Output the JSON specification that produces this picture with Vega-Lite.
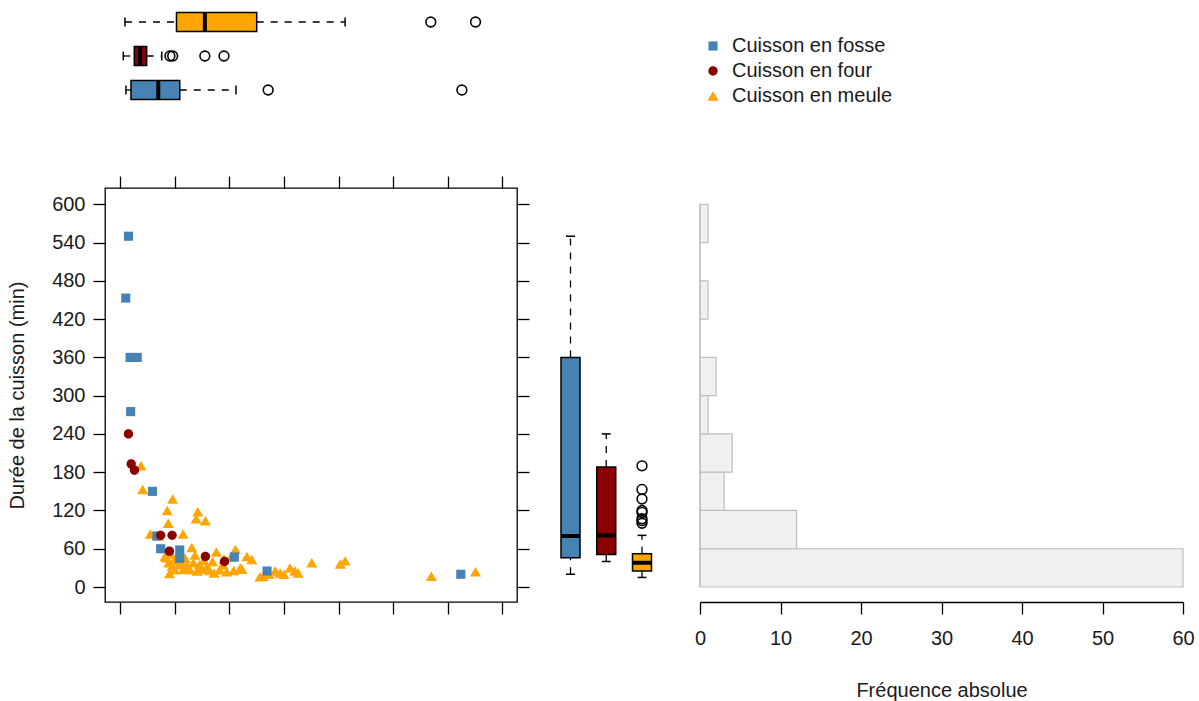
{
 "$schema": "https://vega.github.io/schema/vega-lite/v6.json",
 "padding": {"left": 6, "top": 5, "right": 5, "bottom": 5},
 "background": "white",
 "config": {
  "font": "Liberation Sans",
  "view": {"stroke": null},
  "axis": {"labelFont": "Liberation Sans", "titleFont": "Liberation Sans", "labelFontSize": 20, "titleFontSize": 20, "titleFontWeight": "normal", "labelColor": "#1a1a1a", "titleColor": "#1a1a1a", "tickColor": "#000000", "domainColor": "#000000", "tickWidth": 1.3, "domainWidth": 1.3, "tickSize": 12, "grid": false}
 },
 "datasets": {
  "pts": [
   {"cuisson": "Cuisson en meule", "x": 3.8, "duree": 190},
   {"cuisson": "Cuisson en meule", "x": 4.1, "duree": 153},
   {"cuisson": "Cuisson en meule", "x": 9.6, "duree": 138},
   {"cuisson": "Cuisson en meule", "x": 8.6, "duree": 120},
   {"cuisson": "Cuisson en meule", "x": 14.2, "duree": 118},
   {"cuisson": "Cuisson en meule", "x": 13.9, "duree": 107},
   {"cuisson": "Cuisson en meule", "x": 15.6, "duree": 104},
   {"cuisson": "Cuisson en meule", "x": 8.8, "duree": 100},
   {"cuisson": "Cuisson en meule", "x": 5.5, "duree": 83},
   {"cuisson": "Cuisson en meule", "x": 11.5, "duree": 83},
   {"cuisson": "Cuisson en meule", "x": 7.0, "duree": 80},
   {"cuisson": "Cuisson en meule", "x": 13.1, "duree": 62},
   {"cuisson": "Cuisson en meule", "x": 8.2, "duree": 48},
   {"cuisson": "Cuisson en meule", "x": 8.5, "duree": 46},
   {"cuisson": "Cuisson en meule", "x": 9.0, "duree": 21},
   {"cuisson": "Cuisson en meule", "x": 8.9, "duree": 38},
   {"cuisson": "Cuisson en meule", "x": 9.5, "duree": 33},
   {"cuisson": "Cuisson en meule", "x": 9.9, "duree": 42},
   {"cuisson": "Cuisson en meule", "x": 10.2, "duree": 44},
   {"cuisson": "Cuisson en meule", "x": 10.0, "duree": 27},
   {"cuisson": "Cuisson en meule", "x": 9.3, "duree": 52},
   {"cuisson": "Cuisson en meule", "x": 11.6, "duree": 28},
   {"cuisson": "Cuisson en meule", "x": 10.8, "duree": 35},
   {"cuisson": "Cuisson en meule", "x": 11.2, "duree": 40},
   {"cuisson": "Cuisson en meule", "x": 11.9, "duree": 45},
   {"cuisson": "Cuisson en meule", "x": 12.3, "duree": 33},
   {"cuisson": "Cuisson en meule", "x": 12.8, "duree": 27},
   {"cuisson": "Cuisson en meule", "x": 13.4, "duree": 38},
   {"cuisson": "Cuisson en meule", "x": 13.7, "duree": 50},
   {"cuisson": "Cuisson en meule", "x": 14.1, "duree": 25},
   {"cuisson": "Cuisson en meule", "x": 14.5, "duree": 35},
   {"cuisson": "Cuisson en meule", "x": 15.0, "duree": 28},
   {"cuisson": "Cuisson en meule", "x": 15.3, "duree": 42},
   {"cuisson": "Cuisson en meule", "x": 15.9, "duree": 32},
   {"cuisson": "Cuisson en meule", "x": 16.4, "duree": 26},
   {"cuisson": "Cuisson en meule", "x": 16.9, "duree": 40},
   {"cuisson": "Cuisson en meule", "x": 17.6, "duree": 55},
   {"cuisson": "Cuisson en meule", "x": 18.2, "duree": 27},
   {"cuisson": "Cuisson en meule", "x": 18.8, "duree": 35},
   {"cuisson": "Cuisson en meule", "x": 19.5, "duree": 24},
   {"cuisson": "Cuisson en meule", "x": 20.3, "duree": 47},
   {"cuisson": "Cuisson en meule", "x": 21.1, "duree": 59},
   {"cuisson": "Cuisson en meule", "x": 22.0, "duree": 30},
   {"cuisson": "Cuisson en meule", "x": 22.3, "duree": 28},
   {"cuisson": "Cuisson en meule", "x": 23.2, "duree": 48},
   {"cuisson": "Cuisson en meule", "x": 24.1, "duree": 43},
   {"cuisson": "Cuisson en meule", "x": 17.2, "duree": 22},
   {"cuisson": "Cuisson en meule", "x": 19.0, "duree": 44},
   {"cuisson": "Cuisson en meule", "x": 20.8, "duree": 26},
   {"cuisson": "Cuisson en meule", "x": 25.6, "duree": 16},
   {"cuisson": "Cuisson en meule", "x": 26.2, "duree": 17},
   {"cuisson": "Cuisson en meule", "x": 27.3, "duree": 20},
   {"cuisson": "Cuisson en meule", "x": 28.4, "duree": 25},
   {"cuisson": "Cuisson en meule", "x": 29.3, "duree": 22},
   {"cuisson": "Cuisson en meule", "x": 30.0, "duree": 20},
   {"cuisson": "Cuisson en meule", "x": 31.1, "duree": 30},
   {"cuisson": "Cuisson en meule", "x": 32.0, "duree": 25},
   {"cuisson": "Cuisson en meule", "x": 32.6, "duree": 22},
   {"cuisson": "Cuisson en meule", "x": 35.1, "duree": 38},
   {"cuisson": "Cuisson en meule", "x": 40.3, "duree": 36},
   {"cuisson": "Cuisson en meule", "x": 41.2, "duree": 41},
   {"cuisson": "Cuisson en meule", "x": 57.0, "duree": 17},
   {"cuisson": "Cuisson en meule", "x": 65.1, "duree": 24},
   {"cuisson": "Cuisson en fosse", "x": 1.5, "duree": 550},
   {"cuisson": "Cuisson en fosse", "x": 1.0, "duree": 453},
   {"cuisson": "Cuisson en fosse", "x": 1.8, "duree": 360},
   {"cuisson": "Cuisson en fosse", "x": 3.1, "duree": 360},
   {"cuisson": "Cuisson en fosse", "x": 1.9, "duree": 275},
   {"cuisson": "Cuisson en fosse", "x": 5.9, "duree": 150},
   {"cuisson": "Cuisson en fosse", "x": 6.7, "duree": 80},
   {"cuisson": "Cuisson en fosse", "x": 7.4, "duree": 60},
   {"cuisson": "Cuisson en fosse", "x": 10.9, "duree": 58},
   {"cuisson": "Cuisson en fosse", "x": 10.9, "duree": 45},
   {"cuisson": "Cuisson en fosse", "x": 20.9, "duree": 47},
   {"cuisson": "Cuisson en fosse", "x": 26.9, "duree": 25},
   {"cuisson": "Cuisson en fosse", "x": 62.4, "duree": 20},
   {"cuisson": "Cuisson en four", "x": 1.5, "duree": 240},
   {"cuisson": "Cuisson en four", "x": 2.0, "duree": 193},
   {"cuisson": "Cuisson en four", "x": 2.6, "duree": 183},
   {"cuisson": "Cuisson en four", "x": 7.4, "duree": 81},
   {"cuisson": "Cuisson en four", "x": 9.5, "duree": 81},
   {"cuisson": "Cuisson en four", "x": 9.0, "duree": 56},
   {"cuisson": "Cuisson en four", "x": 15.6, "duree": 48},
   {"cuisson": "Cuisson en four", "x": 19.1, "duree": 40}
  ],
  "xbox": [
   {"cuisson": "Cuisson en meule", "lower": 0.86, "q1": 10.3, "median": 15.5, "q3": 25.0, "upper": 41.2},
   {"cuisson": "Cuisson en four", "lower": 0.55, "q1": 2.57, "median": 3.6, "q3": 4.84, "upper": 7.6},
   {"cuisson": "Cuisson en fosse", "lower": 1.04, "q1": 1.96, "median": 6.96, "q3": 10.9, "upper": 21.2}
  ],
  "xout": [
   {"cuisson": "Cuisson en meule", "x": 56.9},
   {"cuisson": "Cuisson en meule", "x": 65.1},
   {"cuisson": "Cuisson en four", "x": 9.1},
   {"cuisson": "Cuisson en four", "x": 9.6},
   {"cuisson": "Cuisson en four", "x": 15.5},
   {"cuisson": "Cuisson en four", "x": 19.0},
   {"cuisson": "Cuisson en fosse", "x": 27.1},
   {"cuisson": "Cuisson en fosse", "x": 62.6}
  ],
  "ybox": [
   {"cuisson": "Cuisson en fosse", "lower": 20, "q1": 46, "median": 80, "q3": 360, "upper": 550},
   {"cuisson": "Cuisson en four", "lower": 40, "q1": 51, "median": 81, "q3": 188, "upper": 240},
   {"cuisson": "Cuisson en meule", "lower": 15, "q1": 25, "median": 38, "q3": 52, "upper": 81}
  ],
  "yout": [
   {"cuisson": "Cuisson en meule", "duree": 190},
   {"cuisson": "Cuisson en meule", "duree": 153},
   {"cuisson": "Cuisson en meule", "duree": 138},
   {"cuisson": "Cuisson en meule", "duree": 120},
   {"cuisson": "Cuisson en meule", "duree": 117},
   {"cuisson": "Cuisson en meule", "duree": 107},
   {"cuisson": "Cuisson en meule", "duree": 104},
   {"cuisson": "Cuisson en meule", "duree": 100}
  ],
  "hist": [
   {"lo": 0, "hi": 60, "n": 60},
   {"lo": 60, "hi": 120, "n": 12},
   {"lo": 120, "hi": 180, "n": 3},
   {"lo": 180, "hi": 240, "n": 4},
   {"lo": 240, "hi": 300, "n": 1},
   {"lo": 300, "hi": 360, "n": 2},
   {"lo": 360, "hi": 420, "n": 0},
   {"lo": 420, "hi": 480, "n": 1},
   {"lo": 480, "hi": 540, "n": 0},
   {"lo": 540, "hi": 600, "n": 1}
  ]
 },
 "bounds": "flush",
 "spacing": 81,
 "resolve": {"scale": {"x": "independent", "y": "independent", "color": "independent", "shape": "independent"}},
 "vconcat": [
  {
   "width": 412,
   "height": 102,
   "layer": [
    {
     "data": {"name": "xbox"},
     "mark": {"type": "rule", "strokeDash": [7, 7], "strokeWidth": 1.3, "color": "black"},
     "encoding": {
      "y": {"field": "cuisson", "type": "nominal", "scale": {"domain": ["Cuisson en meule", "Cuisson en four", "Cuisson en fosse"], "paddingInner": 0, "paddingOuter": 0}, "axis": null},
      "x": {"field": "lower", "type": "quantitative", "scale": {"domain": [-2.8, 72.7], "nice": false, "zero": false}, "axis": null},
      "x2": {"field": "q1"}
     }
    },
    {
     "data": {"name": "xbox"},
     "mark": {"type": "rule", "strokeDash": [7, 7], "strokeWidth": 1.3, "color": "black"},
     "encoding": {
      "y": {"field": "cuisson", "type": "nominal"},
      "x": {"field": "q3", "type": "quantitative"},
      "x2": {"field": "upper"}
     }
    },
    {
     "data": {"name": "xbox"},
     "mark": {"type": "tick", "size": 9, "thickness": 1.5, "color": "black", "opacity": 1},
     "encoding": {
      "y": {"field": "cuisson", "type": "nominal"},
      "x": {"field": "lower", "type": "quantitative"}
     }
    },
    {
     "data": {"name": "xbox"},
     "mark": {"type": "tick", "size": 9, "thickness": 1.5, "color": "black", "opacity": 1},
     "encoding": {
      "y": {"field": "cuisson", "type": "nominal"},
      "x": {"field": "upper", "type": "quantitative"}
     }
    },
    {
     "data": {"name": "xbox"},
     "mark": {"type": "bar", "size": 19, "stroke": "black", "strokeWidth": 1.5, "opacity": 1},
     "encoding": {
      "y": {"field": "cuisson", "type": "nominal"},
      "x": {"field": "q1", "type": "quantitative"},
      "x2": {"field": "q3"},
      "color": {"field": "cuisson", "type": "nominal", "scale": {"domain": ["Cuisson en fosse", "Cuisson en four", "Cuisson en meule"], "range": ["#4682B4", "#8B0000", "#FFA500"]}, "legend": null}
     }
    },
    {
     "data": {"name": "xbox"},
     "mark": {"type": "tick", "size": 19, "thickness": 4, "color": "black", "opacity": 1},
     "encoding": {
      "y": {"field": "cuisson", "type": "nominal"},
      "x": {"field": "median", "type": "quantitative"}
     }
    },
    {
     "data": {"name": "xout"},
     "mark": {"type": "point", "shape": "circle", "filled": false, "size": 95, "stroke": "black", "strokeWidth": 1.6, "opacity": 1},
     "encoding": {
      "y": {"field": "cuisson", "type": "nominal"},
      "x": {"field": "x", "type": "quantitative"}
     }
    }
   ]
  },
  {
   "bounds": "flush",
   "spacing": 20,
   "resolve": {"scale": {"x": "independent", "y": "independent", "color": "independent", "shape": "independent"}},
   "hconcat": [
    {
     "width": 412,
     "height": 414,
     "view": {"stroke": "black", "strokeWidth": 1.3},
     "data": {"name": "pts"},
     "resolve": {"axis": {"x": "independent", "y": "independent"}},
     "layer": [
      {
       "mark": {"type": "point", "opacity": 0},
       "encoding": {
        "x": {"field": "x", "type": "quantitative", "scale": {"domain": [-2.8, 72.7], "nice": false, "zero": false}, "axis": {"orient": "top", "values": [0, 10, 20, 30, 40, 50, 60, 70], "labels": false, "domain": false, "title": null}},
        "y": {"field": "duree", "type": "quantitative", "scale": {"domain": [-23.5, 625.6], "nice": false, "zero": false}, "axis": {"orient": "right", "values": [0, 60, 120, 180, 240, 300, 360, 420, 480, 540, 600], "labels": false, "domain": false, "title": null}}
       }
      },
      {
       "mark": {"type": "point", "filled": true, "opacity": 1, "strokeWidth": 0, "size": 130},
       "encoding": {
        "x": {"field": "x", "type": "quantitative", "axis": {"orient": "bottom", "values": [0, 10, 20, 30, 40, 50, 60, 70], "labels": false, "domain": false, "title": null}},
        "y": {"field": "duree", "type": "quantitative", "axis": {"orient": "left", "values": [0, 60, 120, 180, 240, 300, 360, 420, 480, 540, 600], "domain": false, "title": "Durée de la cuisson (min)", "labelPadding": 8, "titlePadding": 24}},
        "color": {"field": "cuisson", "type": "nominal", "scale": {"domain": ["Cuisson en fosse", "Cuisson en four", "Cuisson en meule"], "range": ["#4682B4", "#8B0000", "#FFA500"]}, "legend": {"orient": "none", "legendX": 598, "legendY": -152, "title": null, "labelFontSize": 20, "labelFont": "Liberation Sans", "labelColor": "#1a1a1a", "labelLimit": 0, "symbolSize": 130, "rowPadding": 5, "labelOffset": 9, "padding": 0, "symbolOpacity": 1, "symbolStrokeWidth": 0}},
        "shape": {"field": "cuisson", "type": "nominal", "scale": {"domain": ["Cuisson en fosse", "Cuisson en four", "Cuisson en meule"], "range": ["M-0.8,-0.8H0.8V0.8H-0.8Z", "M-0.82,0A0.82,0.82 0 1,0 0.82,0A0.82,0.82 0 1,0 -0.82,0Z", "M0,-0.83L0.97,0.83L-0.97,0.83Z"]}}
       }
      }
     ]
    },
    {
     "width": 143,
     "height": 414,
     "layer": [
      {
       "data": {"name": "ybox"},
       "mark": {"type": "rule", "strokeDash": [7, 7], "strokeWidth": 1.3, "color": "black"},
       "encoding": {
        "x": {"field": "cuisson", "type": "nominal", "scale": {"domain": ["Cuisson en fosse", "Cuisson en four", "Cuisson en meule"], "paddingInner": 0, "paddingOuter": 0.5, "align": 0.437}, "axis": null},
        "y": {"field": "lower", "type": "quantitative", "scale": {"domain": [-23.5, 625.6], "nice": false, "zero": false}, "axis": null},
        "y2": {"field": "q1"}
       }
      },
      {
       "data": {"name": "ybox"},
       "mark": {"type": "rule", "strokeDash": [7, 7], "strokeWidth": 1.3, "color": "black"},
       "encoding": {
        "x": {"field": "cuisson", "type": "nominal"},
        "y": {"field": "q3", "type": "quantitative"},
        "y2": {"field": "upper"}
       }
      },
      {
       "data": {"name": "ybox"},
       "mark": {"type": "tick", "size": 9, "thickness": 1.5, "color": "black", "opacity": 1},
       "encoding": {
        "x": {"field": "cuisson", "type": "nominal"},
        "y": {"field": "lower", "type": "quantitative"}
       }
      },
      {
       "data": {"name": "ybox"},
       "mark": {"type": "tick", "size": 9, "thickness": 1.5, "color": "black", "opacity": 1},
       "encoding": {
        "x": {"field": "cuisson", "type": "nominal"},
        "y": {"field": "upper", "type": "quantitative"}
       }
      },
      {
       "data": {"name": "ybox"},
       "mark": {"type": "bar", "size": 19, "stroke": "black", "strokeWidth": 1.5, "opacity": 1},
       "encoding": {
        "x": {"field": "cuisson", "type": "nominal"},
        "y": {"field": "q1", "type": "quantitative"},
        "y2": {"field": "q3"},
        "color": {"field": "cuisson", "type": "nominal", "scale": {"domain": ["Cuisson en fosse", "Cuisson en four", "Cuisson en meule"], "range": ["#4682B4", "#8B0000", "#FFA500"]}, "legend": null}
       }
      },
      {
       "data": {"name": "ybox"},
       "mark": {"type": "tick", "size": 19, "thickness": 4, "color": "black", "opacity": 1},
       "encoding": {
        "x": {"field": "cuisson", "type": "nominal"},
        "y": {"field": "median", "type": "quantitative"}
       }
      },
      {
       "data": {"name": "yout"},
       "mark": {"type": "point", "shape": "circle", "filled": false, "size": 95, "stroke": "black", "strokeWidth": 1.6, "opacity": 1},
       "encoding": {
        "x": {"field": "cuisson", "type": "nominal"},
        "y": {"field": "duree", "type": "quantitative"}
       }
      }
     ]
    },
    {
     "width": 483,
     "height": 414,
     "data": {"name": "hist"},
     "layer": [
      {
       "mark": {"type": "rect", "fill": "#F0F0F0", "stroke": "#BEBEBE", "strokeWidth": 1.2},
       "encoding": {
        "y": {"field": "lo", "type": "quantitative", "scale": {"domain": [-23.5, 625.6], "nice": false, "zero": false}, "axis": null},
        "y2": {"field": "hi"},
        "x": {"field": "n", "type": "quantitative", "scale": {"domain": [0, 60], "nice": false}, "axis": {"values": [0, 10, 20, 30, 40, 50, 60], "title": "Fréquence absolue", "labelPadding": 14, "titlePadding": 32, "labelFlush": false}},
        "x2": {"datum": 0}
       }
      },
      {
       "mark": {"type": "rule", "color": "#BEBEBE", "strokeWidth": 1.2},
       "encoding": {
        "y": {"field": "lo", "type": "quantitative"},
        "y2": {"field": "hi"},
        "x": {"datum": 0}
       }
      }
     ]
    }
   ]
  }
 ]
}
